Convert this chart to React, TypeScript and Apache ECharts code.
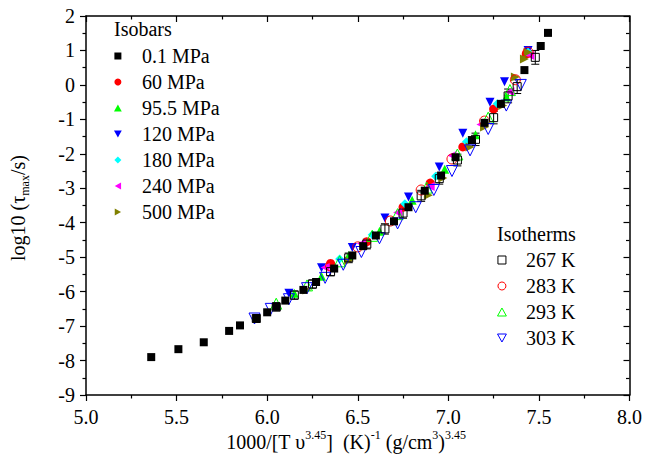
import React, { useEffect, useRef } from "react";
import * as echarts from "echarts";

const FONT = "'Liberation Serif', 'Times New Roman', serif";

// Isobars (filled symbols): [x, log10 tau]
const p01MPa: number[][] = [
  [5.36, -7.9], [5.51, -7.67], [5.65, -7.47], [5.79, -7.14], [5.85, -6.98], [5.94, -6.78],
  [6.0, -6.6], [6.05, -6.42], [6.1, -6.26], [6.2, -5.95], [6.27, -5.72], [6.37, -5.33],
  [6.47, -4.95], [6.53, -4.68], [6.6, -4.37], [6.7, -3.96], [6.78, -3.55], [6.87, -3.07],
  [6.96, -2.63], [7.04, -2.1], [7.13, -1.6], [7.2, -1.1], [7.29, -0.55], [7.42, 0.43],
  [7.51, 1.13], [7.55, 1.51],
];
const p60MPa: number[][] = [
  [6.35, -5.18], [6.55, -4.55], [6.75, -3.55], [6.9, -2.85], [7.08, -1.8], [7.25, -0.7], [7.43, 0.9],
];
const p95MPa: number[][] = [
  [6.15, -6.05], [6.3, -5.55], [6.45, -4.95], [6.62, -4.25], [6.8, -3.35], [6.98, -2.45],
  [7.15, -1.45], [7.32, -0.35], [7.44, 0.95],
];
const p120MPa: number[][] = [
  [6.12, -6.05], [6.3, -5.31], [6.47, -4.72], [6.65, -3.86], [6.78, -3.25], [6.95, -2.38],
  [7.08, -1.4], [7.23, -0.5], [7.31, 0.09], [7.44, 1.0],
];
const p180MPa: number[][] = [
  [6.4, -5.05], [6.58, -4.35], [6.76, -3.45], [6.93, -2.65], [7.1, -1.65], [7.27, -0.55], [7.44, 0.95],
];
const p240MPa: number[][] = [
  [6.32, -5.3], [6.52, -4.6], [6.72, -3.7], [6.9, -2.95], [7.02, -2.05], [7.18, -1.15],
  [7.34, -0.2], [7.45, 0.85],
];
const p500MPa: number[][] = [
  [6.22, -5.95], [6.45, -5.1], [6.89, -3.2], [6.97, -2.7], [7.12, -1.8], [7.2, -1.22],
  [7.3, -0.6], [7.37, 0.23], [7.42, 0.75], [7.44, 0.95],
];

// Isotherms (open symbols)
const t267K: number[][] = [
  [5.94, -6.78], [6.05, -6.45], [6.15, -6.1], [6.25, -5.78], [6.35, -5.42], [6.45, -5.02],
  [6.55, -4.62], [6.65, -4.18], [6.75, -3.72], [6.85, -3.22], [6.95, -2.72], [7.05, -2.18],
  [7.15, -1.58], [7.25, -0.95], [7.33, -0.32], [7.38, -0.05], [7.48, 0.8],
];
// error bar half-heights for 267 K points (same order)
const t267KErr: number[] = [
  0.1, 0.1, 0.12, 0.12, 0.12, 0.14, 0.14, 0.15, 0.15, 0.16, 0.16, 0.17,
  0.18, 0.18, 0.2, 0.2, 0.2,
];
const t283K: number[][] = [
  [6.35, -5.25], [6.5, -4.7], [6.68, -3.95], [6.85, -3.05], [7.02, -2.15], [7.2, -1.05],
  [7.37, 0.15], [7.44, 0.95],
];
const t293K: number[][] = [
  [6.05, -6.35], [6.22, -5.82], [6.4, -5.12], [6.58, -4.38], [6.72, -3.75], [6.88, -2.98],
  [7.05, -2.02], [7.22, -0.95], [7.34, -0.15],
];
const t303K: number[][] = [
  [5.93, -6.78], [6.02, -6.5], [6.12, -6.22], [6.22, -5.9], [6.32, -5.6], [6.42, -5.22],
  [6.52, -4.85], [6.62, -4.45], [6.72, -4.02], [6.82, -3.55], [6.92, -3.05], [7.02, -2.5],
  [7.12, -1.9], [7.22, -1.28], [7.32, -0.6], [7.4, 0.0],
];

const isobarNames = ["0.1 MPa", "60 MPa", "95.5 MPa", "120 MPa", "180 MPa", "240 MPa", "500 MPa"];
const isothermNames = ["267 K", "283 K", "293 K", "303 K"];

const SQUARE = "path://M0,0L10,0L10,10L0,10Z";
const UP = "path://M5,0L10,9L0,9Z";
const DOWN = "path://M0,0L10,0L5,9Z";
const LEFT = "path://M0,5L9,0L9,10Z";
const RIGHT = "path://M0,0L9,5L0,10Z";
const DIAMOND = "path://M5,0L10,5L5,10L0,5Z";

function filled(name: string, data: number[][], symbol: string, color: string, size: number) {
  return {
    type: "scatter",
    name,
    data,
    symbol,
    symbolSize: size,
    itemStyle: { color, opacity: 1 },
  };
}
function open(name: string, data: number[][], symbol: string, color: string, size: number) {
  return {
    type: "scatter",
    name,
    data,
    symbol,
    symbolSize: size,
    itemStyle: { color: "transparent", borderColor: color, borderWidth: 1, opacity: 1 },
  };
}

export default function App() {
  const ref = useRef<HTMLDivElement>(null);
  useEffect(() => {
    if (!ref.current) return;
    const chart = echarts.init(ref.current, undefined, { renderer: "svg" });
    const axisLine = { show: true, onZero: false, lineStyle: { color: "#000", width: 1.5 } };
    const tickStyle = { color: "#000", width: 1.2 };
    const labelStyle = { fontSize: 20, fontFamily: FONT, color: "#000" };
    const legendText = { fontSize: 20, fontFamily: FONT, color: "#000", lineHeight: 20 };
    const rich = {
      m: { fontSize: 20, fontFamily: FONT, color: "#000", lineHeight: 26 },
      sub: { fontSize: 12, fontFamily: FONT, color: "#000", lineHeight: 12, verticalAlign: "bottom" },
      sup: { fontSize: 12, fontFamily: FONT, color: "#000", lineHeight: 12, verticalAlign: "top" },
    };
    const mkAxis = (extra: any, inside: boolean, showLabel: boolean, labelExtra: any) => ({
      type: "value",
      ...extra,
      axisLine,
      splitLine: { show: false },
      axisTick: { show: true, inside, length: 6, lineStyle: tickStyle },
      minorTick: { show: true, splitNumber: 2, length: 3.5, lineStyle: tickStyle },
      axisLabel: showLabel ? { ...labelStyle, ...labelExtra } : { show: false },
    });
    const errData = t267K.map((p, i) => [p[0], p[1], t267KErr[i]]);
    chart.setOption({
      animation: false,
      backgroundColor: "#fff",
      grid: { left: 86, right: 13, top: 16, bottom: 66, containLabel: false },
      xAxis: [
        mkAxis({ min: 5, max: 8, interval: 0.5, position: "bottom" }, false, true, {
          margin: 12,
          formatter: (v: number) => v.toFixed(1),
        }),
        mkAxis({ min: 5, max: 8, interval: 0.5, position: "top" }, true, false, {}),
      ],
      yAxis: [
        mkAxis({ min: -9, max: 2, interval: 1, position: "left" }, false, true, { margin: 11 }),
        mkAxis({ min: -9, max: 2, interval: 1, position: "right" }, true, false, {}),
      ],
      legend: [
        {
          orient: "vertical", left: 114, top: 46, padding: 0,
          itemWidth: 38, itemHeight: 7, itemGap: 6,
          textStyle: legendText, data: isobarNames, selectedMode: false,
        },
        {
          orient: "vertical", left: 497, top: 250, padding: 0,
          itemWidth: 38, itemHeight: 8, itemGap: 6,
          itemStyle: { borderWidth: 1 },
          textStyle: legendText, data: isothermNames, selectedMode: false,
        },
      ],
      graphic: [
        { type: "text", x: 114, y: 29, style: { text: "Isobars", fontSize: 20, fontFamily: FONT, fill: "#000", verticalAlign: "middle" } },
        { type: "text", x: 497, y: 234, style: { text: "Isotherms", fontSize: 20, fontFamily: FONT, fill: "#000", verticalAlign: "middle" } },
        {
          type: "text", x: 346, y: 442,
          style: {
            text: "{m|1000/[T υ}{sup|3.45}{m|]  (K)}{sup|-1}{m| (g/cm}{sup|3}{m|)}{sup|3.45}",
            rich, align: "center", verticalAlign: "middle",
          },
        },
        {
          type: "text", x: 18, y: 208, rotation: Math.PI / 2,
          style: {
            text: "{m|log10 (τ}{sub|max}{m|/s)}",
            rich, align: "center", verticalAlign: "middle",
          },
        },
      ],
      series: [
        filled("60 MPa", p60MPa, "circle", "#ff0000", 9),
        filled("95.5 MPa", p95MPa, UP, "#00ff00", 9),
        filled("120 MPa", p120MPa, DOWN, "#0000ff", 9),
        filled("180 MPa", p180MPa, DIAMOND, "#00ffff", 9),
        filled("240 MPa", p240MPa, LEFT, "#ff00ff", 9),
        filled("500 MPa", p500MPa, RIGHT, "#808000", 9),
        open("283 K", t283K, "circle", "#ff0000", 10),
        open("293 K", t293K, UP, "#00ff00", 11),
        open("303 K", t303K, DOWN, "#0000ff", 11),
        {
          type: "custom",
          name: "267 K error",
          data: errData,
          silent: true,
          renderItem: (params: any, api: any) => {
            const x = api.value(0);
            const y = api.value(1);
            const e = api.value(2);
            const top = api.coord([x, y + e]);
            const bot = api.coord([x, y - e]);
            const hw = 4;
            const style = { stroke: "#000", lineWidth: 1, fill: "none" };
            return {
              type: "group",
              children: [
                { type: "line", shape: { x1: top[0], y1: top[1], x2: bot[0], y2: bot[1] }, style },
                { type: "line", shape: { x1: top[0] - hw, y1: top[1], x2: top[0] + hw, y2: top[1] }, style },
                { type: "line", shape: { x1: bot[0] - hw, y1: bot[1], x2: bot[0] + hw, y2: bot[1] }, style },
              ],
            };
          },
        },
        open("267 K", t267K, SQUARE, "#000000", 8),
        filled("0.1 MPa", p01MPa, SQUARE, "#000000", 8),
      ],
    });
    return () => chart.dispose();
  }, []);
  return <div ref={ref} style={{ position: "fixed", left: 0, top: 0, width: 645, height: 461 }} />;
}
